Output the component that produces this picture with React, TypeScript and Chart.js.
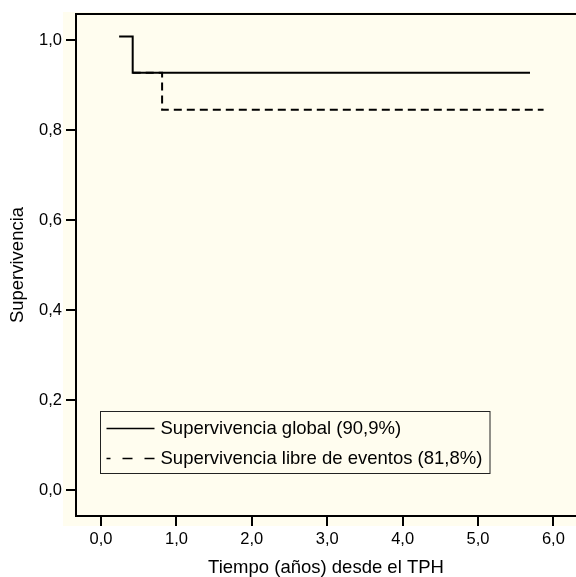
import React, { useEffect, useRef } from "react";
import { Chart, registerables } from "chart.js";

Chart.register(...registerables);

// ---- data ----
const globalTimes = [0.24, 0.42, 5.69];
const globalSurv = [1.008, 0.927, 0.927];
const efsTimes = [0.42, 0.81, 5.87];
const efsSurv = [0.927, 0.845, 0.845];
const xTickValues = [0, 1, 2, 3, 4, 5, 6];
const yTickValues = [0, 0.2, 0.4, 0.6, 0.8, 1.0];
const seriesLabels = [
  "Supervivencia global (90,9%)",
  "Supervivencia libre de eventos (81,8%)",
];
const xTitle = "Tiempo (años) desde el TPH";
const yTitle = "Supervivencia";

const FONT = "'Liberation Sans', Arial, Helvetica, sans-serif";
const CREAM = "rgb(255,253,239)";
const fmt = (v: number) => v.toFixed(1).replace(".", ",");

const bgPlugin = {
  id: "bgPlugin",
  beforeDraw(chart: any) {
    const { ctx, chartArea: a } = chart;
    ctx.save();
    ctx.fillStyle = CREAM;
    ctx.fillRect(a.left - 13, a.top - 2, a.right - a.left + 13, a.bottom - a.top + 12);
    ctx.restore();
  },
  afterDraw(chart: any) {
    const { ctx, chartArea: a } = chart;
    ctx.save();
    // top frame line
    ctx.strokeStyle = "#000";
    ctx.lineWidth = 2;
    ctx.beginPath();
    ctx.moveTo(a.left - 1, a.top);
    ctx.lineTo(a.right, a.top);
    ctx.stroke();

    // legend box
    const bx = a.left + 24.5;
    const by = a.top + 397.5;
    const bw = 389.5;
    const bh = 62;
    ctx.fillStyle = CREAM;
    ctx.fillRect(bx, by, bw, bh);
    ctx.strokeStyle = "#222";
    ctx.lineWidth = 1;
    ctx.strokeRect(bx, by, bw, bh);

    const ds = chart.data.datasets;
    const rows = [by + 17, by + 47];
    ctx.font = `18.5px ${FONT}`;
    ctx.textBaseline = "middle";
    ctx.textAlign = "left";
    ds.forEach((d: any, i: number) => {
      const y = rows[i];
      ctx.strokeStyle = d.borderColor;
      ctx.lineWidth = 1.6;
      if (d.borderDash && d.borderDash.length) {
        ctx.setLineDash([10, 12]);
        ctx.lineDashOffset = 6;
      } else {
        ctx.setLineDash([]);
      }
      ctx.beginPath();
      ctx.moveTo(bx + 6, y);
      ctx.lineTo(bx + 54, y);
      ctx.stroke();
      ctx.setLineDash([]);
      ctx.fillStyle = "#000";
      ctx.fillText(d.label, bx + 60, y);
    });
    ctx.restore();
  },
};

export default function App() {
  const ref = useRef<HTMLCanvasElement | null>(null);

  useEffect(() => {
    if (!ref.current) return;
    const chart = new Chart(ref.current, {
      type: "line",
      data: {
        datasets: [
          {
            label: seriesLabels[0],
            data: globalTimes.map((t, i) => ({ x: t, y: globalSurv[i] })),
            borderColor: "#000",
            borderWidth: 2,
            pointRadius: 0,
            stepped: "before",
            fill: false,
          },
          {
            label: seriesLabels[1],
            data: efsTimes.map((t, i) => ({ x: t, y: efsSurv[i] })),
            borderColor: "#000",
            borderWidth: 2,
            borderDash: [8, 5],
            pointRadius: 0,
            stepped: "before",
            fill: false,
          },
        ],
      },
      options: {
        responsive: false,
        animation: false,
        devicePixelRatio: 1,
        layout: { padding: { top: 14, left: 0, right: 0, bottom: 0 } },
        plugins: {
          legend: { display: false },
          tooltip: { enabled: false },
        },
        scales: {
          x: {
            type: "linear",
            min: -0.332,
            max: 6.3,
            afterBuildTicks: (s: any) => {
              s.ticks = xTickValues.map((v) => ({ value: v }));
            },
            afterFit: (s: any) => {
              s.height = 61;
            },
            ticks: {
              callback: (v: any) => fmt(Number(v)),
              color: "#000",
              padding: 4,
              maxRotation: 0,
              font: { family: FONT, size: 16.5 },
            },
            grid: {
              drawOnChartArea: false,
              drawTicks: true,
              tickLength: 10,
              tickWidth: 2,
              lineWidth: 2,
              tickColor: "#000",
              color: "#000",
            },
            border: { display: true, color: "#000", width: 2 },
            title: {
              display: true,
              text: xTitle,
              color: "#000",
              font: { family: FONT, size: 18.5, lineHeight: 1 },
              padding: { top: 0, bottom: 0 },
            },
          },
          y: {
            type: "linear",
            min: -0.0578,
            max: 1.0578,
            afterBuildTicks: (s: any) => {
              s.ticks = yTickValues.map((v) => ({ value: v }));
            },
            afterFit: (s: any) => {
              s.width = 76;
            },
            ticks: {
              callback: (v: any) => fmt(Number(v)),
              color: "#000",
              padding: 4,
              font: { family: FONT, size: 16.5 },
            },
            grid: {
              drawOnChartArea: false,
              drawTicks: true,
              tickLength: 10,
              tickWidth: 2,
              lineWidth: 2,
              tickColor: "#000",
              color: "#000",
            },
            border: { display: true, color: "#000", width: 2 },
            title: {
              display: true,
              text: yTitle,
              color: "#000",
              font: { family: FONT, size: 18.5, lineHeight: 1 },
              padding: { top: 9, bottom: 0 },
            },
          },
        },
      },
      plugins: [bgPlugin],
    });
    return () => chart.destroy();
  }, []);

  return (
    <div style={{ position: "absolute", left: 0, top: 0, width: 576, height: 577, background: "#fff" }}>
      <canvas ref={ref} width={576} height={577} style={{ display: "block" }} />
    </div>
  );
}
